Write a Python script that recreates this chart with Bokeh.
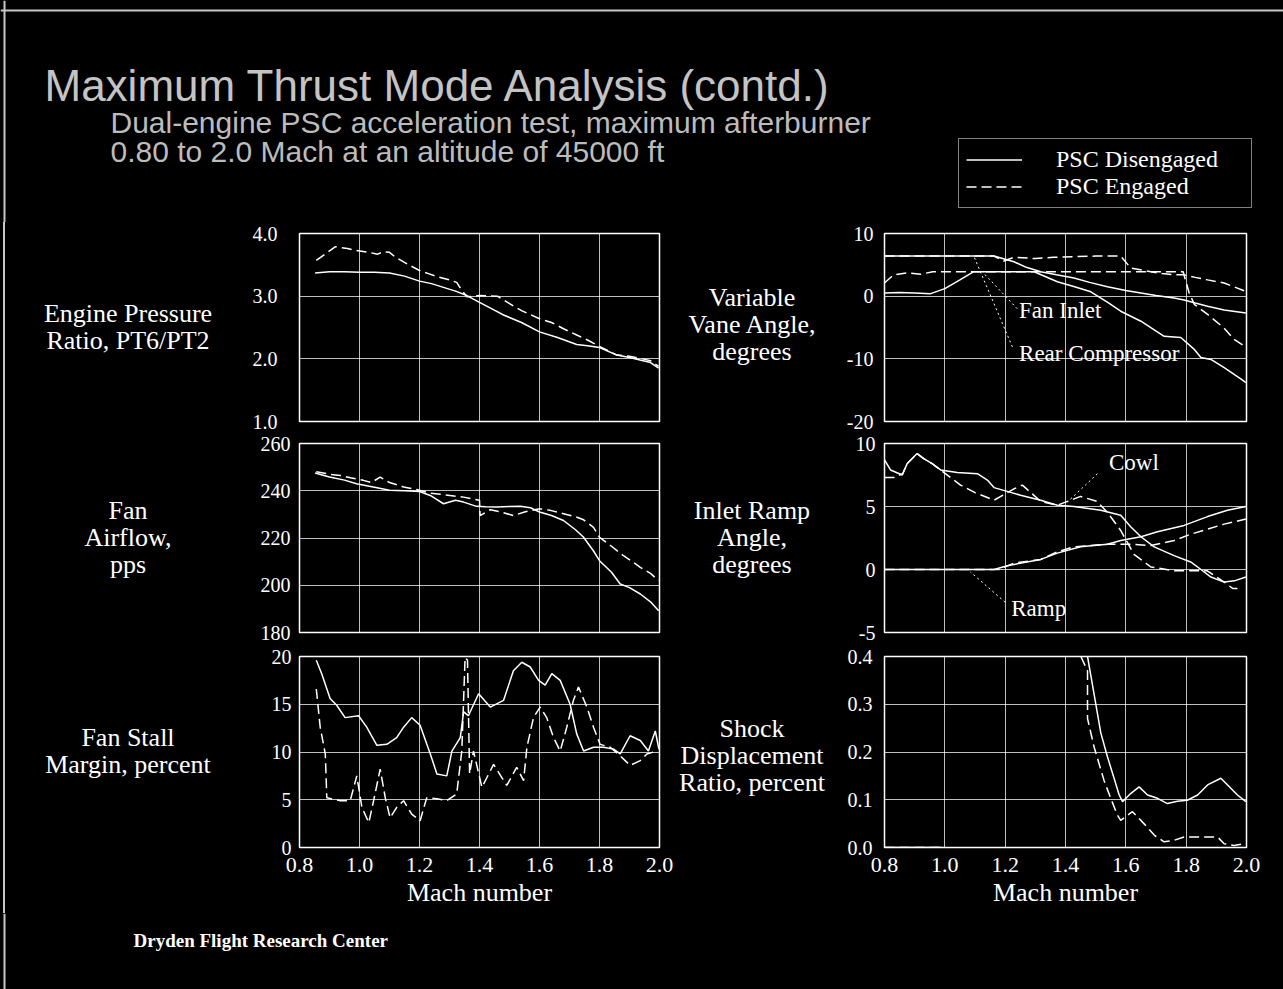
from bokeh.plotting import figure
from bokeh.layouts import column, row
from bokeh.models import Div, Range1d, FixedTicker, NumeralTickFormatter, Legend, LegendItem, Span
from bokeh.embed import file_html
from bokeh.resources import INLINE
from bokeh.core.properties import value

NAN = float("nan")

# ---------------- texts ----------------
TITLE = "Maximum Thrust Mode Analysis (contd.)"
SUBTITLE_1 = "Dual-engine PSC acceleration test, maximum afterburner"
SUBTITLE_2 = "0.80 to 2.0 Mach at an altitude of 45000 ft"
FOOTER = "Dryden Flight Research Center"
SERIES_NAMES = ["PSC Disengaged", "PSC Engaged"]
X_LABEL = "Mach number"

LABEL_EPR = ["Engine Pressure", "Ratio, PT6/PT2"]
LABEL_AIR = ["Fan", "Airflow,", "pps"]
LABEL_STALL = ["Fan Stall", "Margin, percent"]
LABEL_VANE = ["Variable", "Vane Angle,", "degrees"]
LABEL_RAMP = ["Inlet Ramp", "Angle,", "degrees"]
LABEL_SHOCK = ["Shock", "Displacement", "Ratio, percent"]

# ---------------- ticks ----------------
MACH_TICKS = [0.8, 1.0, 1.2, 1.4, 1.6, 1.8, 2.0]
EPR_TICKS = [1.0, 2.0, 3.0, 4.0]
AIR_TICKS = [180, 200, 220, 240, 260]
STALL_TICKS = [0, 5, 10, 15, 20]
VANE_TICKS = [-20, -10, 0, 10]
RAMP_TICKS = [-5, 0, 5, 10]
SHOCK_TICKS = [0.0, 0.1, 0.2, 0.3, 0.4]

# ---------------- data (Mach, value) ----------------
EPR_DIS = [(0.852, 3.37), (0.90, 3.39), (0.95, 3.39), (1.00, 3.38), (1.05, 3.38), (1.10, 3.37),
           (1.15, 3.32), (1.20, 3.24), (1.24, 3.20), (1.28, 3.14), (1.32, 3.08), (1.358, 3.01),
           (1.40, 2.90), (1.44, 2.80), (1.48, 2.70), (1.54, 2.58), (1.60, 2.43), (1.66, 2.34),
           (1.724, 2.23), (1.76, 2.21), (1.80, 2.18), (1.858, 2.06), (1.90, 2.02), (1.935, 1.98),
           (1.97, 1.94), (1.997, 1.85)]
EPR_ENG = [(0.856, 3.57), (0.92, 3.79), (0.96, 3.76), (0.99, 3.73), (1.03, 3.70), (1.06, 3.67),
           (1.08, 3.71), (1.10, 3.70), (1.12, 3.62), (1.16, 3.51), (1.20, 3.41), (1.23, 3.36),
           (1.26, 3.31), (1.30, 3.26), (1.324, 3.22), (1.34, 3.10), (1.358, 2.99), (1.40, 3.01),
           (1.46, 3.00), (1.50, 2.88), (1.54, 2.77), (1.60, 2.64), (1.64, 2.58), (1.68, 2.48),
           (1.724, 2.38), (1.76, 2.30), (1.80, 2.20), (1.858, 2.06), (1.90, 2.04), (1.935, 2.01),
           (1.97, 1.97), (1.997, 1.88)]

AIR_DIS = [(0.852, 247.5), (0.90, 245.8), (0.95, 244.5), (0.99, 243.0), (1.05, 241.5), (1.10, 240.2),
           (1.15, 240.0), (1.20, 239.7), (1.236, 238.0), (1.28, 234.5), (1.32, 236.0), (1.347, 235.2),
           (1.39, 233.4), (1.42, 233.2), (1.458, 233.1), (1.50, 233.3), (1.536, 233.4), (1.57, 232.8),
           (1.60, 231.0), (1.64, 229.5), (1.68, 227.4), (1.72, 223.5), (1.747, 220.3), (1.78, 214.5),
           (1.80, 210.4), (1.84, 205.5), (1.869, 200.5), (1.90, 199.0), (1.936, 196.3), (1.97, 193.0),
           (1.997, 189.2)]
AIR_ENG = [(0.856, 248.0), (0.90, 247.0), (0.936, 246.5), (0.97, 245.5), (1.013, 244.4), (1.04, 243.5),
           (1.069, 245.8), (1.10, 243.5), (1.147, 241.6), (1.19, 240.5), (1.236, 239.0), (1.27, 238.5),
           (1.302, 238.0), (1.347, 237.3), (1.40, 236.0), (1.402, 229.5), (1.436, 232.0), (1.47, 231.0),
           (1.513, 229.5), (1.55, 231.0), (1.60, 232.4), (1.636, 231.7), (1.68, 230.3), (1.72, 229.0),
           (1.747, 227.7), (1.78, 224.5), (1.80, 220.3), (1.84, 216.5), (1.88, 212.5), (1.91, 210.0),
           (1.936, 207.6), (1.97, 205.0), (1.997, 202.0)]

STALL_DIS = [(0.856, 19.6), (0.874, 18.2), (0.902, 15.6), (0.924, 14.9), (0.952, 13.6), (0.997, 13.8),
             (1.024, 12.6), (1.058, 10.7), (1.091, 10.8), (1.124, 11.5), (1.147, 12.6), (1.174, 13.6),
             (1.202, 12.8), (1.236, 9.8), (1.258, 7.7), (1.291, 7.5), (1.308, 10.1), (1.336, 11.5),
             (1.347, 14.2), (1.363, 13.8), (1.397, 16.1), (1.436, 14.7), (1.48, 15.4), (1.513, 18.5),
             (1.541, 19.4), (1.569, 18.9), (1.597, 17.5), (1.619, 17.0), (1.641, 18.2), (1.669, 17.5),
             (1.702, 15.0), (1.724, 11.9), (1.747, 10.1), (1.78, 10.5), (1.813, 10.5), (1.847, 10.3),
             (1.869, 9.8), (1.902, 11.7), (1.936, 11.2), (1.963, 10.1), (1.986, 12.2), (1.998, 10.3)]
STALL_ENG = [(0.856, 16.6), (0.869, 12.6), (0.886, 9.8), (0.891, 5.2), (0.936, 4.9), (0.969, 4.9),
             (0.991, 7.5), (1.008, 4.2), (1.031, 2.6), (1.047, 4.9), (1.069, 8.2), (1.086, 5.2),
             (1.102, 3.1), (1.124, 4.2), (1.147, 4.9), (1.174, 3.5), (1.202, 2.8), (1.224, 5.2),
             (1.258, 5.1), (1.291, 4.9), (1.324, 5.6), (1.341, 10.1), (1.352, 19.9), (1.36, 19.6),
             (1.367, 7.7), (1.38, 10.1), (1.408, 6.3), (1.447, 8.7), (1.491, 6.5), (1.524, 8.4),
             (1.547, 7.0), (1.558, 10.5), (1.58, 13.6), (1.602, 14.7), (1.624, 13.6), (1.647, 11.5),
             (1.669, 10.1), (1.691, 12.6), (1.713, 15.4), (1.73, 16.8), (1.758, 14.7), (1.78, 12.6),
             (1.802, 10.8), (1.836, 10.5), (1.869, 9.6), (1.902, 8.6), (1.936, 9.1), (1.958, 9.8),
             (1.991, 10.1)]

FAN_INLET_DIS = [(0.80, 6.4), (0.90, 6.4), (1.00, 6.4), (1.10, 6.4), (1.163, 6.4), (1.20, 5.9),
                 (1.229, 5.5), (1.27, 4.6), (1.318, 3.9), (1.37, 3.4), (1.428, 2.9), (1.48, 2.2),
                 (1.539, 1.5), (1.60, 0.9), (1.65, 0.5), (1.70, 0.1), (1.76, -0.3), (1.793, -0.6),
                 (1.83, -1.1), (1.871, -1.6), (1.926, -2.2), (1.998, -2.7)]
FAN_INLET_ENG = [(0.80, 6.4), (0.90, 6.4), (1.00, 6.4), (1.10, 6.4), (1.163, 6.4), (1.196, 5.6),
                 (1.229, 6.2), (1.30, 6.0), (1.36, 6.2), (1.43, 6.3), (1.50, 6.4), (1.583, 6.4),
                 (1.616, 4.5), (1.683, 3.9), (1.72, 3.6), (1.76, 3.4), (1.793, 3.4), (1.83, 3.0),
                 (1.871, 2.6), (1.926, 2.1), (1.995, 0.8)]
REAR_COMP_DIS = [(0.80, 0.5), (0.85, 0.6), (0.90, 0.5), (0.953, 0.4), (1.00, 1.2), (1.05, 2.6),
                 (1.096, 3.9), (1.15, 3.9), (1.20, 3.9), (1.296, 3.9), (1.373, 2.3), (1.43, 1.5),
                 (1.484, 0.7), (1.54, -1.0), (1.583, -2.4), (1.65, -4.0), (1.727, -6.4), (1.782, -6.6),
                 (1.827, -8.5), (1.849, -9.8), (1.882, -10.1), (1.926, -11.4), (1.981, -13.2), (1.998, -13.8)]
REAR_COMP_ENG = [(0.80, 2.1), (0.83, 3.4), (0.875, 3.7), (0.92, 3.5), (0.96, 3.9), (1.00, 3.9),
                 (1.10, 3.9), (1.20, 3.9), (1.30, 3.9), (1.40, 3.9), (1.50, 3.9), (1.60, 3.9),
                 (1.70, 3.9), (1.79, 3.9), (1.81, 0.5), (1.827, -1.3), (1.871, -2.9), (1.926, -5.1),
                 (1.959, -6.9), (1.998, -8.1)]

COWL_DIS = [(0.80, 8.7), (0.82, 7.9), (0.859, 7.5), (0.875, 8.4), (0.908, 9.2), (0.93, 8.8),
            (0.958, 8.4), (0.986, 7.9), (1.041, 7.7), (1.108, 7.6), (1.141, 7.1), (1.163, 6.5),
            (1.207, 6.2), (1.251, 5.9), (1.318, 5.5), (1.373, 5.1), (1.428, 5.0), (1.517, 4.7),
            (1.583, 4.3), (1.616, 3.4), (1.65, 2.6), (1.694, 1.8), (1.76, 1.1), (1.815, 0.6),
            (1.849, 0.0), (1.882, -0.6), (1.926, -1.0), (1.96, -0.9), (1.998, -0.6)]
COWL_ENG = [(0.80, 7.3), (0.83, 7.3), (0.86, 7.6), (0.875, 8.4), (0.908, 9.2), (0.93, 8.8),
            (0.958, 8.4), (0.986, 7.9), (1.052, 6.7), (1.10, 6.1), (1.163, 5.5), (1.20, 6.0),
            (1.229, 6.4), (1.257, 6.7), (1.318, 5.4), (1.373, 5.1), (1.45, 5.8), (1.505, 5.4),
            (1.54, 4.5), (1.583, 3.1), (1.627, 1.2), (1.683, 0.2), (1.76, -0.1), (1.87, -0.1),
            (1.926, -1.0), (1.954, -1.5), (1.97, -1.5)]
RAMP_DIS = [(0.80, 0.0), (0.90, 0.0), (1.00, 0.0), (1.10, 0.0), (1.163, 0.0), (1.207, 0.3),
            (1.318, 0.8), (1.373, 1.3), (1.45, 1.8), (1.539, 2.0), (1.583, 2.3), (1.65, 2.6),
            (1.705, 3.0), (1.793, 3.5), (1.871, 4.2), (1.937, 4.7), (1.998, 5.0)]
RAMP_ENG = [(0.80, 0.0), (0.90, 0.0), (1.00, 0.0), (1.10, 0.0), (1.18, 0.0), (1.229, 0.5),
            (1.318, 0.8), (1.373, 1.4), (1.428, 1.8), (1.539, 2.0), (1.616, 2.0), (1.683, 1.9),
            (1.76, 2.3), (1.815, 2.8), (1.871, 3.2), (1.926, 3.6), (1.998, 4.0)]

SHOCK_DIS = [(0.80, 0.0), (0.90, 0.0), (0.99, 0.0), (NAN, NAN), (1.473, 0.40), (1.484, 0.36),
             (1.495, 0.32), (1.517, 0.24), (1.539, 0.19), (1.561, 0.145), (1.578, 0.11), (1.589, 0.096),
             (1.616, 0.113), (1.644, 0.127), (1.672, 0.11), (1.705, 0.103), (1.738, 0.092), (1.771, 0.097),
             (1.804, 0.099), (1.838, 0.11), (1.871, 0.131), (1.915, 0.145), (1.948, 0.124), (1.97, 0.11),
             (1.998, 0.096)]
SHOCK_ENG = [(0.80, 0.0), (0.90, 0.0), (1.00, 0.0), (NAN, NAN), (1.451, 0.40), (1.473, 0.37),
             (1.473, 0.27), (1.495, 0.21), (1.528, 0.14), (1.55, 0.103), (1.572, 0.068), (1.583, 0.057),
             (1.622, 0.075), (1.66, 0.05), (1.694, 0.026), (1.727, 0.012), (1.76, 0.015), (1.793, 0.022),
             (1.849, 0.022), (1.904, 0.022), (1.926, 0.008), (1.959, 0.004), (1.992, 0.008)]

# in-plot notes and their leader lines (Mach, value)
VANE_NOTES = ["Fan Inlet", "Rear Compressor"]
VANE_NOTE_AT = [(1.246, -2.3), (1.246, -9.1)]
VANE_LEADERS = [((1.240, -2.0), (1.124, 3.9)), ((1.224, -8.1), (1.094, 6.6))]
RAMP_NOTES = ["Cowl", "Ramp"]
RAMP_NOTE_AT = [(1.544, 8.5), (1.22, -3.1)]
RAMP_LEADERS = [((1.506, 7.6), (1.406, 5.35)), ((1.20, -2.6), (1.085, -0.2))]

# ---------------- styling ----------------
SERIF = "Liberation Serif"
SANS = "Liberation Sans"
EDGE = "#c8c8c8"
W_TOTAL = 1283
W_LAB_L, W_FIG_L, W_LAB_M, W_FIG_R = 230, 446, 162, 445
H_HEAD, H_ROW1, H_ROW2, H_ROW3, H_FOOT = 222, 210, 212, 269, 76
DASH = "10 5"


def split(pairs):
    xs, ys = zip(*pairs)
    return list(xs), list(ys)


def panel(side, h, bt, bb, ylim, yticks, yfmt, standoff, bottom):
    if side == "L":
        w, bl, br = W_FIG_L, 69, 17
    else:
        w, bl, br = W_FIG_R, 46, 37
    p = figure(width=w, height=h, x_range=Range1d(0.8, 2.0), y_range=Range1d(*ylim),
               output_backend="svg", toolbar_location=None,
               min_border_left=bl, min_border_right=br, min_border_top=bt, min_border_bottom=bb,
               background_fill_color="black", border_fill_color="black")
    p.outline_line_color = "white"
    p.outline_line_width = 1.5
    xt = FixedTicker(ticks=MACH_TICKS)
    yt = FixedTicker(ticks=yticks)
    p.xaxis.ticker = xt
    p.xgrid.ticker = xt
    p.yaxis.ticker = yt
    p.ygrid.ticker = yt
    for g in (p.xgrid, p.ygrid):
        g.grid_line_color = "white"
        g.grid_line_alpha = 0.75
        g.grid_line_width = 1
    for ax in (p.xaxis, p.yaxis):
        ax.axis_line_color = None
        ax.major_tick_line_color = None
        ax.minor_tick_line_color = None
        ax.major_tick_out = 0
        ax.major_tick_in = 0
        ax.major_label_text_color = "white"
        ax.major_label_text_font = SERIF
        ax.major_label_text_font_size = "20px"
    p.yaxis.major_label_standoff = standoff
    p.yaxis.formatter = NumeralTickFormatter(format=yfmt)
    if bottom:
        p.xaxis.formatter = NumeralTickFormatter(format="0.0")
        p.xaxis.major_label_text_font_size = "22px"
        p.xaxis.major_label_standoff = 10
        p.xaxis.axis_label = X_LABEL
        p.xaxis.axis_label_text_font = SERIF
        p.xaxis.axis_label_text_font_style = "normal"
        p.xaxis.axis_label_text_font_size = "26px"
        p.xaxis.axis_label_text_color = "white"
        p.xaxis.axis_label_standoff = 3
    else:
        p.xaxis.visible = False
    return p


def draw(p, dis, eng):
    x, y = split(dis)
    p.line(x, y, line_color="white", line_width=1.5)
    x, y = split(eng)
    p.line(x, y, line_color="white", line_width=1.5, line_dash=DASH)


def notes(p, texts, at, leaders):
    x, y = split(at)
    p.text(x=x, y=y, text=texts, text_color="white", text_font=value(SERIF),
           text_font_size="23px", text_baseline="middle", text_align="left")
    p.segment(x0=[a[0][0] for a in leaders], y0=[a[0][1] for a in leaders],
              x1=[a[1][0] for a in leaders], y1=[a[1][1] for a in leaders],
              line_color="white", line_width=1, line_dash="2 3")


def label_div(lines, w, h, pad_top, pad_left=0, pad_right=0, edge=False):
    html = "<br>".join(lines)
    inner = ('<div style="box-sizing:border-box;padding-top:%dpx;padding-left:%dpx;padding-right:%dpx;'
             'width:%dpx;text-align:center;color:white;font-family:\'Liberation Serif\';'
             'font-size:26px;line-height:27px;">%s</div>'
             % (pad_top, pad_left, pad_right, w, html))
    styles = {"background-color": "black", "margin": "0"}
    if edge:
        styles["background"] = ("linear-gradient(to right, black 3px, %s 3px, %s 5px, black 5px)"
                                % (EDGE, EDGE))
    return Div(text=inner, width=w, height=h, styles=styles)


def blank(w, h):
    p = figure(width=w, height=h, x_range=Range1d(0, w), y_range=Range1d(h, 0),
               output_backend="svg", toolbar_location=None, x_axis_location=None, y_axis_location=None,
               min_border=0, background_fill_color="black", border_fill_color="black")
    p.outline_line_color = None
    p.grid.visible = False
    p.add_layout(Span(location=4, dimension="height", line_color=EDGE, line_width=2))
    return p


# ---------------- header ----------------
head = blank(W_TOTAL, H_HEAD)
head.add_layout(Span(location=10, dimension="width", line_color=EDGE, line_width=2))
head.text(x=[44], y=[85], text=[TITLE], text_color="#c4c4c4", text_font=value(SANS),
          text_font_size="44px", text_baseline="alphabetic")
head.text(x=[110, 110], y=[122, 151], text=[SUBTITLE_1, SUBTITLE_2], text_color="#bcbcbc",
          text_font=value(SANS), text_font_size="30px", text_baseline="alphabetic")
r_dis = head.line(x=[NAN, NAN], y=[NAN, NAN], line_color="white", line_width=1.5)
r_eng = head.line(x=[NAN, NAN], y=[NAN, NAN], line_color="white", line_width=1.5, line_dash=DASH)
legend = Legend(items=[LegendItem(label=SERIES_NAMES[0], renderers=[r_dis]),
                       LegendItem(label=SERIES_NAMES[1], renderers=[r_eng])],
                location=(958, 14), padding=7, spacing=0, margin=0,
                glyph_width=56, glyph_height=27, label_height=27, label_width=188, label_standoff=34,
                label_text_font=SERIF, label_text_font_size="24px", label_text_color="white",
                background_fill_color="black", background_fill_alpha=1.0,
                border_line_color="white", border_line_width=1.5)
head.add_layout(legend)

# ---------------- panels ----------------
p_epr = panel("L", H_ROW1, 11, 11, (1.0, 4.0), EPR_TICKS, "0.0", 22, False)
draw(p_epr, EPR_DIS, EPR_ENG)
p_vane = panel("R", H_ROW1, 11, 11, (-20, 10), VANE_TICKS, "0", 11, False)
draw(p_vane, FAN_INLET_DIS, FAN_INLET_ENG)
draw(p_vane, REAR_COMP_DIS, REAR_COMP_ENG)
notes(p_vane, VANE_NOTES, VANE_NOTE_AT, VANE_LEADERS)

p_air = panel("L", H_ROW2, 11, 12, (180, 260), AIR_TICKS, "0", 9, False)
draw(p_air, AIR_DIS, AIR_ENG)
p_ramp = panel("R", H_ROW2, 11, 12, (-5, 10), RAMP_TICKS, "0", 9, False)
draw(p_ramp, COWL_DIS, COWL_ENG)
draw(p_ramp, RAMP_DIS, RAMP_ENG)
notes(p_ramp, RAMP_NOTES, RAMP_NOTE_AT, RAMP_LEADERS)

p_stall = panel("L", H_ROW3, 12, 66, (0, 20), STALL_TICKS, "0", 8, True)
draw(p_stall, STALL_DIS, STALL_ENG)
p_shock = panel("R", H_ROW3, 12, 66, (0.0, 0.4), SHOCK_TICKS, "0.0", 12, True)
draw(p_shock, SHOCK_DIS, SHOCK_ENG)

# ---------------- footer ----------------
foot = blank(W_TOTAL, H_FOOT)
foot.text(x=[133], y=[27], text=[FOOTER], text_color="white", text_font=value(SERIF),
          text_font_size="19px", text_font_style="bold", text_baseline="middle")

row1 = row(label_div(LABEL_EPR, W_LAB_L, H_ROW1, 78, 26, 0, True), p_epr,
           label_div(LABEL_VANE, W_LAB_M, H_ROW1, 62, 0, 10), p_vane)
row2 = row(label_div(LABEL_AIR, W_LAB_L, H_ROW2, 65, 26, 0, True), p_air,
           label_div(LABEL_RAMP, W_LAB_M, H_ROW2, 65, 0, 10), p_ramp)
row3 = row(label_div(LABEL_STALL, W_LAB_L, H_ROW3, 80, 26, 0, True), p_stall,
           label_div(LABEL_SHOCK, W_LAB_M, H_ROW3, 71, 0, 10), p_shock)

layout = column(head, row1, row2, row3, foot, styles={"background-color": "black"})

open("out.html", "w").write(file_html(layout, INLINE))
